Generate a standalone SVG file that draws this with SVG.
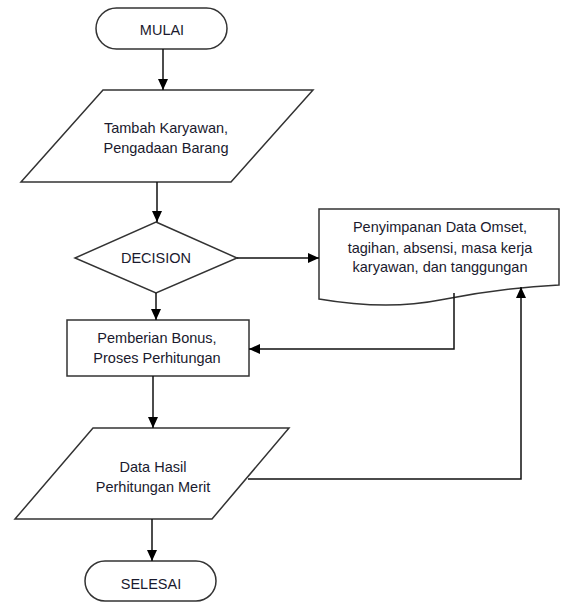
<svg xmlns="http://www.w3.org/2000/svg" width="567" height="603" viewBox="0 0 567 603">
<defs>
<marker id="arr" markerUnits="userSpaceOnUse" markerWidth="12" markerHeight="10" refX="11" refY="5" orient="auto">
<path d="M0,0 L11,5 L0,10 Z" fill="#000"/>
</marker>
<style>
.s{fill:#fff;stroke:#333;stroke-width:1.5}
.t{font-family:"Liberation Sans",Arial,sans-serif;font-size:14.5px;fill:#1a1a2e;text-anchor:middle}
.c{fill:none;stroke:#111;stroke-width:1.5}
</style>
</defs>
<rect width="567" height="603" fill="#fff"/>
<g id="mulai">
<rect class="s" x="96" y="8" width="131" height="41" rx="20.5"/>
<text class="t" x="162" y="35">MULAI</text>
</g>
<g id="input1">
<polygon class="s" points="103,90 313,90 231,182 21,182"/>
<text class="t" x="166" y="133">Tambah Karyawan,</text>
<text class="t" x="166" y="153">Pengadaan Barang</text>
</g>
<g id="decision">
<polygon class="s" points="156,222 237,258 156,293 75,258"/>
<text class="t" x="156" y="263">DECISION</text>
</g>
<g id="document">
<path class="s" d="M319,209 H559 V285 C520,287 480,292 440,300 C400,308 360,306 319,299 Z"/>
<text class="t" x="440" y="232">Penyimpanan Data Omset,</text>
<text class="t" x="440" y="253">tagihan, absensi, masa kerja</text>
<text class="t" x="440" y="272">karyawan, dan tanggungan</text>
</g>
<g id="process">
<rect class="s" x="67" y="320" width="182" height="56"/>
<text class="t" x="157" y="343">Pemberian Bonus,</text>
<text class="t" x="157" y="363">Proses Perhitungan</text>
</g>
<g id="output">
<polygon class="s" points="93,428 289,428 212,519 15,519"/>
<text class="t" x="153" y="472">Data Hasil</text>
<text class="t" x="153" y="492">Perhitungan Merit</text>
</g>
<g id="selesai">
<rect class="s" x="85" y="561" width="131" height="40" rx="20"/>
<text class="t" x="151" y="589">SELESAI</text>
</g>
<g id="connectors">
<path class="c" d="M163,49 V90" marker-end="url(#arr)"/>
<path class="c" d="M157,182 V222" marker-end="url(#arr)"/>
<path class="c" d="M237,258 H319" marker-end="url(#arr)"/>
<path class="c" d="M156,293 V320" marker-end="url(#arr)"/>
<path class="c" d="M454,293 V349 H249" marker-end="url(#arr)"/>
<path class="c" d="M153,376 V428" marker-end="url(#arr)"/>
<path class="c" d="M248,479 H521 V287" marker-end="url(#arr)"/>
<path class="c" d="M152,519 V561" marker-end="url(#arr)"/>
</g>
</svg>
